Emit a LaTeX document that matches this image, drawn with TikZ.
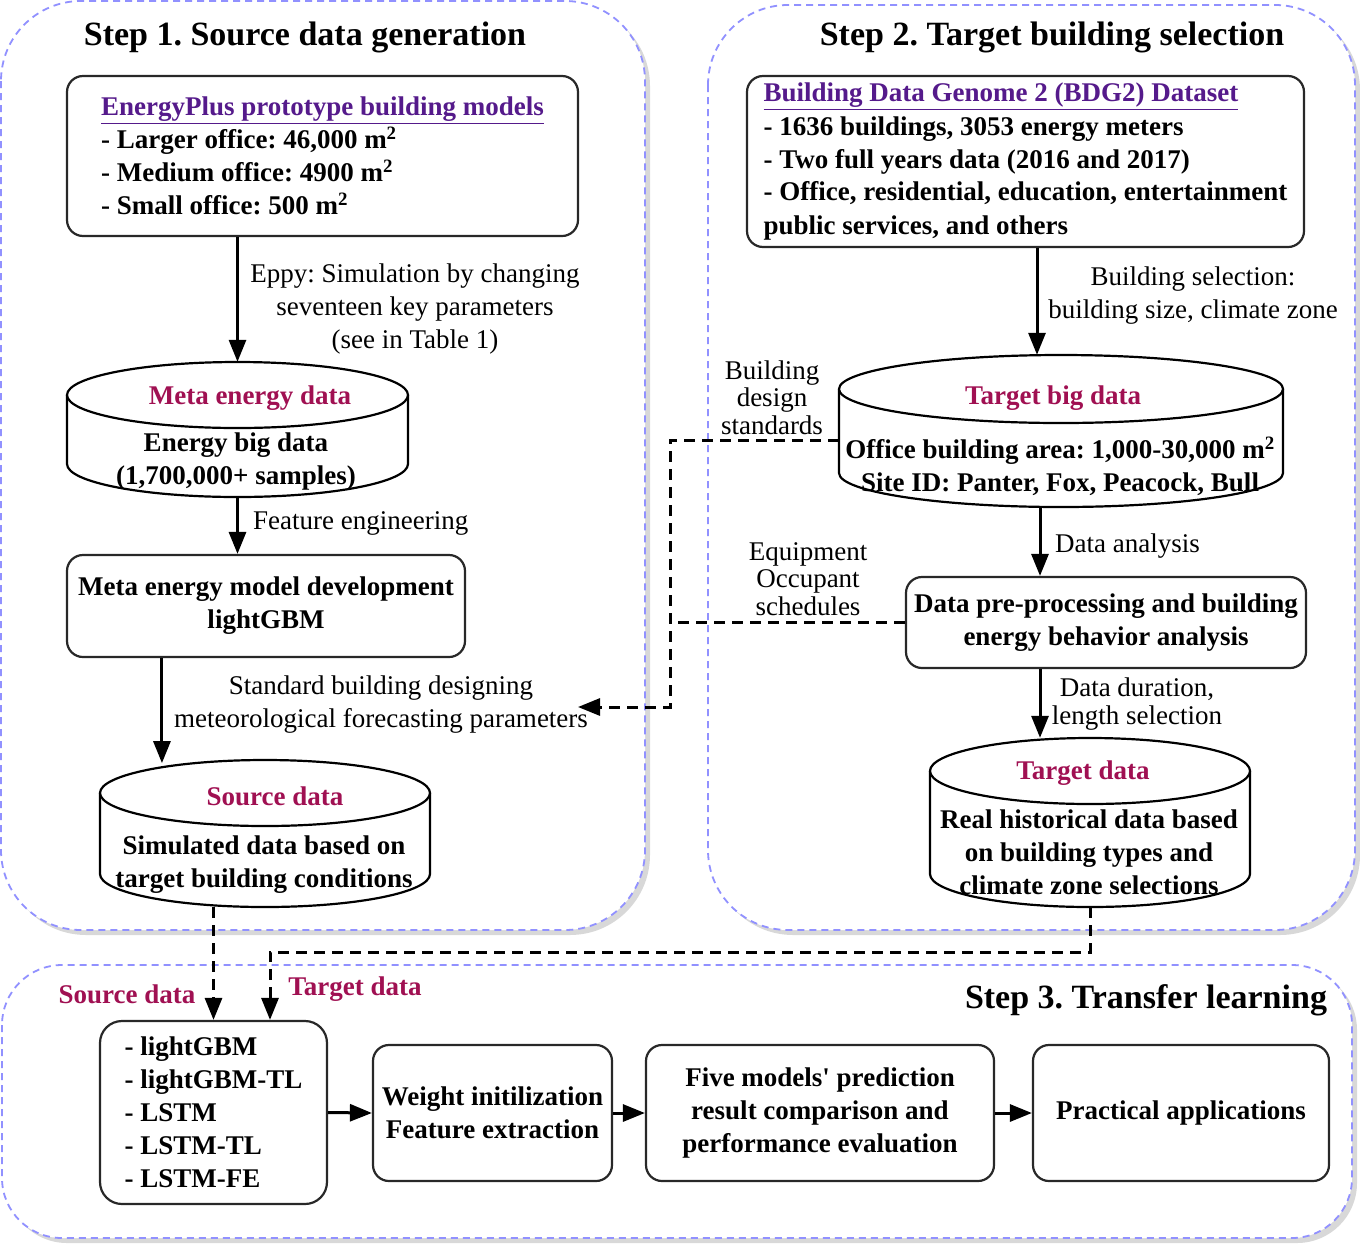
\documentclass[tikz,border=0pt]{standalone}
\usepackage{fontspec}
\setmainfont{Liberation Serif}
\usetikzlibrary{arrows.meta,shadows,calc}
\definecolor{linkpurple}{RGB}{85,26,139}
\definecolor{crim}{RGB}{160,16,82}
\definecolor{cont}{RGB}{145,145,255}
\definecolor{edgec}{RGB}{40,40,40}
\frenchspacing
\tikzset{
 container/.style={draw=cont, line width=1.8pt, dash pattern=on 7pt off 5pt, rounded corners=80pt, fill=white,
   drop shadow={shadow xshift=5pt, shadow yshift=-5pt, opacity=0.3, fill=black!50}},
 boxn/.style={draw=edgec, line width=2.2pt, rounded corners=16pt, fill=white, inner sep=0pt,
   font=\bfseries\fontsize{27}{33}\selectfont},
 cylline/.style={draw=black, line width=2.2pt, fill=white},
 cyltxt/.style={inner sep=0pt, align=center, font=\bfseries\fontsize{27}{33}\selectfont},
 cylhead/.style={inner sep=0pt, text=crim, font=\bfseries\fontsize{27}{33}\selectfont},
 lbl/.style={inner sep=0pt, align=center, font=\fontsize{27}{33}\selectfont},
 lbltight/.style={inner sep=0pt, align=center, font=\fontsize{27}{27.5}\selectfont},
 arr/.style={line width=3pt, -{Triangle[length=22pt,width=17pt]}},
 darr/.style={line width=3pt, dash pattern=on 11pt off 7pt, -{Triangle[length=22pt,width=17pt]}},
 dline/.style={line width=3pt, dash pattern=on 11pt off 7pt},
 steptitle/.style={inner sep=0pt, font=\bfseries\fontsize{34}{40}\selectfont},
}
\newcommand\drawcyl[6]{%
  \pgfmathsetmacro\cylcx{(#2+#4)/2}%
  \pgfmathsetmacro\cylcy{(#3+#5)/2}%
  \pgfmathsetmacro\cylrx{(#4-#2)/2}%
  \pgfmathsetmacro\cylw{#4-#2}%
  \pgfmathsetmacro\cylh{#5-#3}%
  \pgfmathsetmacro\cylt{#3+#6}%
  \pgfmathsetmacro\cylb{#5-#6}%
  \node[inner sep=0pt, minimum width=\cylw pt, minimum height=\cylh pt] (#1) at (\cylcx,\cylcy) {};
  \draw[cylline] (#2,\cylt) -- (#2,\cylb) arc[start angle=180, end angle=360, x radius=\cylrx pt, y radius=#6pt] -- (#4,\cylt);
  \draw[cylline] (\cylcx,\cylt) ellipse[x radius=\cylrx pt, y radius=#6pt];
}
\begin{document}
\begin{tikzpicture}[x=1pt,y=-1pt]
\useasboundingbox (0,0) rectangle (1360,1243);
\fill[white] (0,0) rectangle (1360,1243);
% containers
\draw[container] (1,1) rectangle (645,930);
\draw[container] (708,5) rectangle (1355,930);
\draw[container, rounded corners=60pt] (2,965) rectangle (1352,1238);

% titles
\node[steptitle] (t1) at (305,37) {Step 1. Source data generation};
\node[steptitle] (t2) at (1052,37) {Step 2. Target building selection};
\node[steptitle] (t3) at (1146,1000) {Step 3. Transfer learning};

% Step 1
\node[boxn, minimum width=511pt, minimum height=160pt, align=left] (boxA) at (322.5,156)
 {\textcolor{linkpurple}{\underline{EnergyPlus prototype building models}}\\
  - Larger office: 46,000 m\textsuperscript{2}\\
  - Medium office: 4900 m\textsuperscript{2}\\
  - Small office: 500 m\textsuperscript{2}};
\drawcyl{meta}{67}{362}{408}{497}{33}
\node[cylhead] (metah) at (250,398) {Meta energy data};
\node[cyltxt] (metat) at (236,461.5) {Energy big data\\(1,700,000+ samples)};
\node[boxn, minimum width=398pt, minimum height=102pt, align=center] (boxB) at (266,606)
 {Meta energy model development\\lightGBM};
\drawcyl{src}{100}{760}{430}{907}{33}
\node[cylhead] (srch) at (275,796) {Source data};
\node[cyltxt] (srct) at (264,864.5) {Simulated data based on\\target building conditions};

\draw[arr] (boxA.south -| meta.north) -- (meta.north);
\node[lbl] (l1) at (415,309) {Eppy: Simulation by changing\\seventeen key parameters\\(see in Table 1)};
\draw[arr] (meta.south) -- (meta.south |- boxB.north);
\node[lbl, anchor=west] (l2) at (253,523) {Feature engineering};
\coordinate (bBs) at ($(boxB.south west)!0.24!(boxB.south east)$);
\draw[arr] (bBs) -- ++(0,105);
\node[lbl] (l3) at (381,705) {Standard building designing\\meteorological forecasting parameters};

% Step 2
\node[boxn, minimum width=557pt, minimum height=171pt, align=left] (boxC) at (1025.5,161.5)
 {\textcolor{linkpurple}{\underline{Building Data Genome 2 (BDG2) Dataset}}\\
  - 1636 buildings, 3053 energy meters\\
  - Two full years data (2016 and 2017)\\
  - Office, residential, education, entertainment\\
  public services, and others};
\drawcyl{tbd}{839}{355}{1283}{507}{34}
\node[cylhead] (tbdh) at (1053,398) {Target big data};
\node[cyltxt] (tbdt) at (1060,466) {Office building area: 1,000-30,000 m\textsuperscript{2}\\Site ID: Panter, Fox, Peacock, Bull};
\node[boxn, minimum width=400pt, minimum height=91pt, align=center] (boxD) at (1106,622.5)
 {Data pre-processing and building\\energy behavior analysis};
\drawcyl{tgt}{930}{738}{1250}{907}{33}
\node[cylhead] (tgth) at (1083,773) {Target data};
\node[cyltxt] (tgtt) at (1089,852) {Real historical data based\\on building types and\\climate zone selections};

\draw[arr] ([xshift=-24pt]tbd.north |- 0,248) -- ([xshift=-24pt]tbd.north);
\node[lbl] (l4) at (1193,295.5) {Building selection:\\building size, climate zone};
\draw[arr] ([xshift=-21pt]tbd.south) -- ([xshift=-21pt]tbd.south |- boxD.north);
\node[lbl, anchor=west] (l7) at (1055,546) {Data analysis};
\draw[arr] ([xshift=-21pt]tbd.south |- boxD.south) -- ([xshift=-21pt]tbd.south |- tgt.north);
\node[lbltight] (l8) at (1137,704) {Data duration,\\length selection};
\node[lbltight] (l5) at (772,397.5) {Building\\design\\standards};
\node[lbltight] (l6) at (808,579) {Equipment\\Occupant\\schedules};

% dashed links between steps 2 and 1
\coordinate (junc) at (670,707);
\coordinate (dsend) at (578,707);
\draw[darr] ([yshift=-9pt]tbd.west) -| (junc) -- (dsend);
\draw[dline] (boxD.west) -- (boxD.west -| junc);

% Step 3
\node[boxn, rounded corners=22pt, minimum width=227pt, minimum height=183pt, align=left] (boxE) at (213.5,1112.5)
 {- lightGBM\\- lightGBM-TL\\- LSTM\\- LSTM-TL\\- LSTM-FE};
\node[boxn, minimum width=239pt, minimum height=136pt, align=center] (boxF) at (492.5,1113)
 {Weight initilization\\Feature extraction};
\node[boxn, minimum width=348pt, minimum height=136pt, align=center] (boxG) at (820,1113)
 {Five models\textquotesingle{} prediction\\result comparison and\\performance evaluation};
\node[boxn, minimum width=296pt, minimum height=136pt, align=center] (boxH) at (1181,1113)
 {Practical applications};
\draw[arr] (boxE.east) -- (boxF.west);
\draw[arr] (boxF.east) -- (boxG.west);
\draw[arr] (boxG.east) -- (boxH.west);

\draw[darr] (boxE.north |- src.south) -- (boxE.north);
\coordinate (tturn) at (270,952);
\draw[darr] (tgt.south) |- (tturn) -- (tturn |- boxE.north);
\node[cylhead] (srclab) at (127,994) {Source data};
\node[cylhead] (tgtlab) at (355,989) {Target data};
\end{tikzpicture}
\end{document}
